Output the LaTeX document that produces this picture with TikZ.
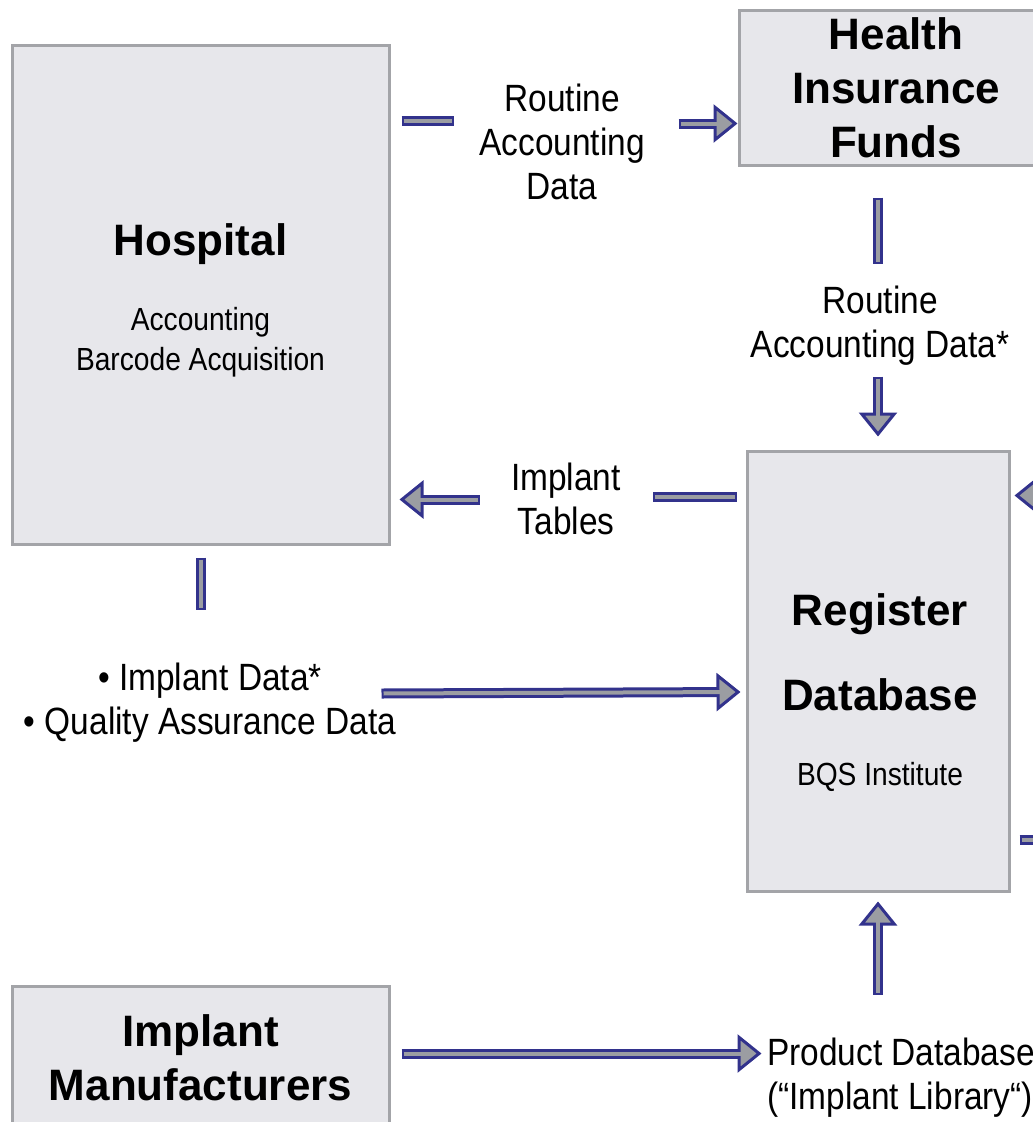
\documentclass[tikz,border=0pt]{standalone}
\usepackage{fontspec}
\setmainfont{Liberation Sans}
\newfontfamily\narrowfont[FakeStretch=0.88]{Liberation Sans}
\usepackage{tikz}
\usetikzlibrary{positioning}
\usetikzlibrary{calc}
\usetikzlibrary{arrows.meta}

\definecolor{navy}{RGB}{50,50,140}
\definecolor{pipegray}{RGB}{155,157,162}
\definecolor{boxfill}{RGB}{231,231,235}
\definecolor{boxedge}{RGB}{163,164,168}

\tikzset{
	unit/.style={draw=boxedge, fill=boxfill, line width=3pt, inner sep=0pt, align=center},
	title/.style={font=\bfseries\fontsize{44}{54}\selectfont, align=center, inner sep=0pt},
	lab/.style={font=\narrowfont\fontsize{38}{44}\selectfont, align=center, inner sep=0pt},
	sublab/.style={font=\narrowfont\fontsize{32}{40}\selectfont, align=center, inner sep=0pt},
	flow/.style={draw=navy, line width=10pt,
		-{Triangle[length=24pt,width=38pt,fill=pipegray,line width=3pt]},
		postaction={draw=pipegray, line width=4pt, -, shorten >=13pt, shorten <=2pt}},
	stub/.style={draw=navy, line width=10pt,
		postaction={draw=pipegray, line width=4pt, shorten >=2pt, shorten <=2pt}}
}

\begin{document}
\begin{tikzpicture}[line cap=butt,line join=miter,x=1pt,y=-1pt]
	\useasboundingbox (0,0) rectangle (1033,1122);
	\clip (0,0) rectangle (1033,1122);
	
	% boxes
	\node[unit, minimum width=377pt, minimum height=499pt] (hosp) at (200.5,294.5) {};
	\node[unit, minimum width=314pt, minimum height=155pt, font=\bfseries\fontsize{44}{54}\selectfont] (funds) at (896,87.5) {Health\\Insurance\\Funds};
	\node[unit, minimum width=262pt, minimum height=440pt] (reg) at (878,671) {};
	\node[unit, minimum width=377pt, minimum height=160pt] (mfr) at (200.5,1066) {};
	
	% texts inside the boxes
	\node[title, anchor=base] (hosptitle) at (200.5,255) {Hospital};
	\node[sublab] (hospsub) at (200.5,342) {Accounting\\Barcode Acquisition};
	\node[title] (regtitle) at (880,652) {Register\\[31pt]Database};
	\node[sublab, anchor=base] (regsub) at (880,785) {BQS Institute};
	\node[title] (mfrtitle) at (200.5,1058) {Implant\\Manufacturers};
	
	% flow labels
	\node[lab] (racc) at (562,142) {Routine\\Accounting\\Data};
	\node[lab] (raccstar) at (880,326) {Routine\\Accounting Data*};
	\node[lab] (itab) at (566,499) {Implant\\Tables};
	\node[lab] (idata) at (210,703) {\textbullet\ Implant Data*\\\textbullet\ Quality Assurance Data};
	\node[lab, anchor=west, align=left] (prod) at (767,1078) {Product Database\\(“Implant Library“)};
	
	% hospital -> funds
	\draw[stub] ([xshift=11pt,yshift=-77pt]hosp.north east) -- ++(52,0);
	\draw[flow] ([xshift=-59pt,yshift=43pt]funds.south west) -- ([yshift=43pt]funds.south west);
	
	% funds -> register
	\draw[stub] ([yshift=-31pt]reg.north |- funds.south) -- ++(0,66);
	\draw[flow] ([yshift=73pt]reg.north) -- ([yshift=13pt]reg.north);
	
	% register -> hospital
	\draw[stub] ([xshift=-9pt,yshift=-47pt]reg.north west) -- ++(-84,0);
	\draw[flow] ([xshift=89pt,yshift=46pt]hosp.south east) -- ([xshift=9pt,yshift=46pt]hosp.south east);
	
	% hospital -> register
	\draw[stub] ([yshift=-12pt]hosp.south) -- ++(0,52);
	\draw[flow] ([xshift=-9pt,yshift=-148pt]hosp.south east) -- ([xshift=-5pt,yshift=-21pt]reg.west);
	
	% manufacturers -> product database -> register
	\draw[flow] ([xshift=11pt,yshift=-69pt]mfr.north east) -- ++(360,0);
	\draw[flow] ([yshift=-102pt]reg.south) -- ([yshift=-9pt]reg.south);
	
	% right hand side
	\draw[flow] ([xshift=60pt,yshift=-46pt]reg.north east) -- ([xshift=4pt,yshift=-46pt]reg.north east);
	\draw[stub] ([xshift=9pt,yshift=53pt]reg.south east) -- ++(50,0);
\end{tikzpicture}
\end{document}
